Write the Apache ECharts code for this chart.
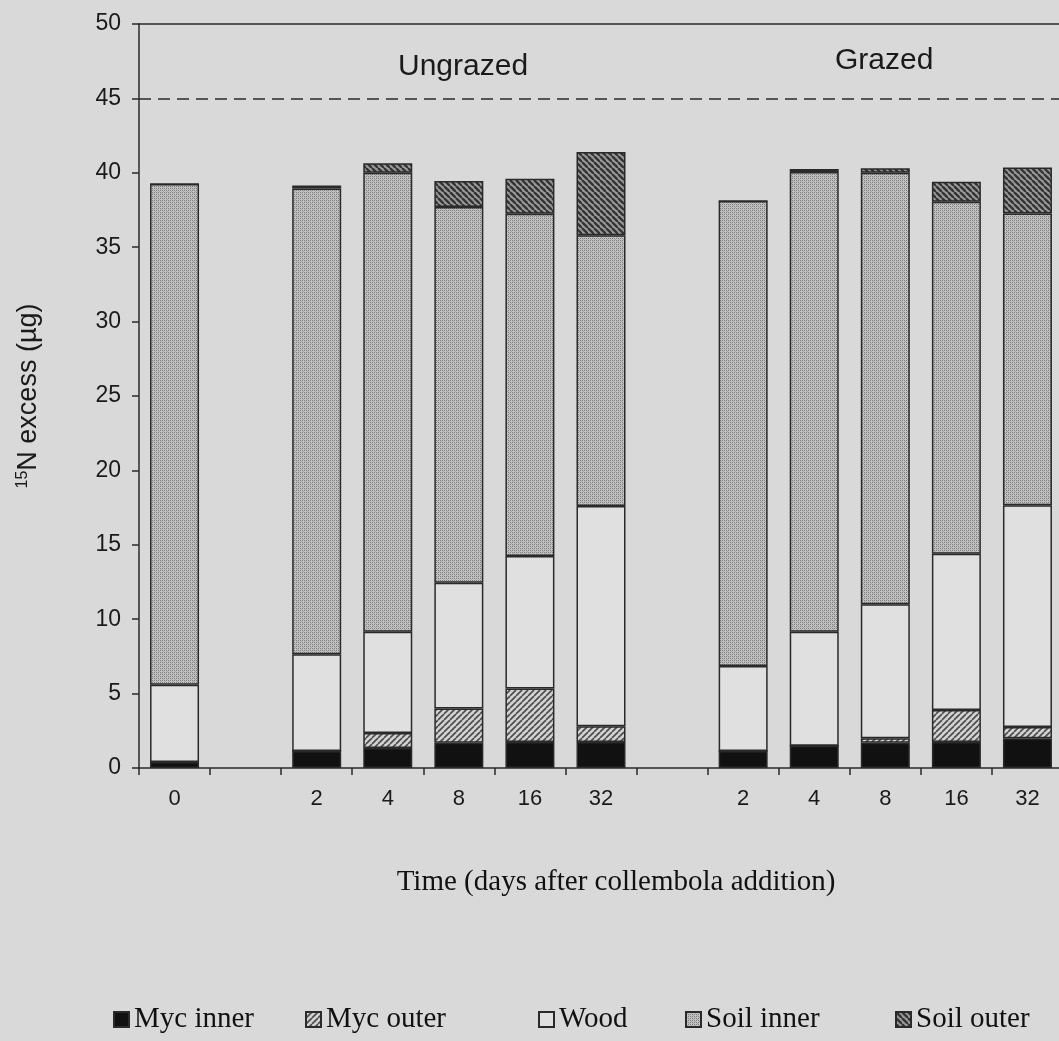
<!DOCTYPE html>
<html>
<head>
<meta charset="utf-8">
<script src="https://cdn.jsdelivr.net/npm/echarts@6/dist/echarts.min.js"></script>
<style>
html,body{margin:0;padding:0;background:#d9d9d9;overflow:hidden;}
#chart{width:1063px;height:1041px;}
</style>
</head>
<body>
<div id="chart"></div>
<script>
// Categories (13 slots: ungrazed 0, gap, 2..32, gap, grazed 2..32)
var categories = ['U0','Ugap','U2','U4','U8','U16','U32','Ggap','G2','G4','G8','G16','G32'];
var tickLabels = ['0','','2','4','8','16','32','','2','4','8','16','32'];
var seriesNames = ['Myc inner','Myc outer','Wood','Soil inner','Soil outer'];
// values in µg (null = empty slot)
var mycInner  = [0.4, null, 1.15, 1.35, 1.7, 1.75, 1.75, null, 1.15, 1.5, 1.7, 1.75, 2.0];
var mycOuter  = [0,   null, 0,    1.0,  2.3, 3.6,  1.05, null, 0,    0,   0.3, 2.15, 0.76];
var wood      = [5.2, null, 6.5,  6.8,  8.45,8.9,  14.8, null, 5.7,  7.65,9.0, 10.5, 14.9];
var soilInner = [33.65,null,31.3, 30.85,25.25,23.0,18.2, null, 31.25,30.9,29.0,23.65,19.6];
var soilOuter = [0,   null, 0.2,  0.65, 1.75,2.35, 5.6,  null, 0,    0.2, 0.3, 1.35, 3.1];
var refLine = 45;
var groupLabels = ['Ungrazed','Grazed'];

function makePattern(kind){
  var c = document.createElement('canvas');
  var ctx = c.getContext('2d');
  if (kind === 'stipple'){
    c.width = 4; c.height = 4;
    ctx.fillStyle = '#c4c4c4'; ctx.fillRect(0,0,4,4);
    ctx.fillStyle = '#7e7e7e';
    ctx.fillRect(0,0,1,1); ctx.fillRect(2,2,1,1); ctx.fillRect(2,0,1,1); ctx.fillRect(0,2,1,1);
    ctx.fillStyle = '#a0a0a0';
    ctx.fillRect(1,1,1,1); ctx.fillRect(3,3,1,1);
  } else if (kind === 'hatchDark'){
    var s = 6; c.width = s; c.height = s;
    ctx.fillStyle = '#9a9a9a'; ctx.fillRect(0,0,s,s);
    ctx.strokeStyle = '#353535'; ctx.lineWidth = 2.4;
    // "\" direction
    [-s,0,s].forEach(function(o){ ctx.beginPath(); ctx.moveTo(o,0); ctx.lineTo(o+s,s); ctx.stroke(); });
  } else if (kind === 'hatchLight'){
    var t = 6; c.width = t; c.height = t;
    ctx.fillStyle = '#d2d2d2'; ctx.fillRect(0,0,t,t);
    ctx.strokeStyle = '#4a4a4a'; ctx.lineWidth = 1.6;
    // "/" direction
    [-t,0,t].forEach(function(o){ ctx.beginPath(); ctx.moveTo(o,t); ctx.lineTo(o+t,0); ctx.stroke(); });
  }
  return {image: c, repeat: 'repeat'};
}

var fills = ['#111111', makePattern('hatchLight'), '#e0e0e0', makePattern('stipple'), makePattern('hatchDark')];
var dataArrays = [mycInner, mycOuter, wood, soilInner, soilOuter];

var series = seriesNames.map(function(name, i){
  var s = {
    name: name,
    type: 'bar',
    stack: 'total',
    barWidth: 49,
    data: dataArrays[i],
    itemStyle: {color: fills[i], borderColor: '#2a2a2a', borderWidth: 1.5},
    emphasis: {disabled: true}
  };
  if (i === 0){
    s.markLine = {
      silent: true, symbol: 'none', label: {show: false},
      lineStyle: {type: [12, 7], color: '#2a2a2a', width: 1.6},
      data: [{yAxis: refLine}]
    };
  }
  return s;
});

var legendPos = [108, 300, 533, 680, 890];
var legends = seriesNames.map(function(n, i){
  return {
    data: [n], left: legendPos[i], top: 1000, icon: 'rect',
    itemWidth: 15, itemHeight: 15, itemGap: 4,
    textStyle: {fontFamily: 'Liberation Serif', fontSize: 29, color: '#111'},
    selectedMode: false
  };
});

var chart = echarts.init(document.getElementById('chart'), null, {renderer: 'canvas'});
chart.setOption({
  backgroundColor: '#d9d9d9',
  animation: false,
  grid: {left: 139, top: 24, right: 0, bottom: 273, show: false},
  legend: legends,
  xAxis: [{
    type: 'category',
    data: categories,
    axisLine: {lineStyle: {color: '#2a2a2a', width: 1.5}},
    axisTick: {show: true, length: 7, lineStyle: {color: '#2a2a2a', width: 1.5}},
    axisLabel: {fontFamily: 'Liberation Sans', fontSize: 22, color: '#1a1a1a', margin: 20,
      formatter: function(v, idx){ return tickLabels[idx]; }},
    name: 'Time (days after collembola addition)',
    nameLocation: 'middle',
    nameGap: 100,
    nameTextStyle: {fontFamily: 'Liberation Serif', fontSize: 29, color: '#111', padding: [0,0,0,30]}
  }, {
    type: 'category',
    position: 'top',
    data: categories,
    axisLine: {show: true, lineStyle: {color: '#2a2a2a', width: 1.5}},
    axisTick: {show: false},
    axisLabel: {show: false}
  }],
  yAxis: {
    type: 'value',
    min: 0, max: 50, interval: 5,
    axisLine: {show: true, lineStyle: {color: '#2a2a2a', width: 1.5}},
    axisTick: {show: true, length: 7, lineStyle: {color: '#2a2a2a', width: 1.5}},
    splitLine: {show: false},
    axisLabel: {fontFamily: 'Liberation Sans', fontSize: 23, color: '#1a1a1a', margin: 18},
    name: '{sup|15}N excess (µg)',
    nameLocation: 'middle',
    nameGap: 97,
    nameRotate: 90,
    nameTextStyle: {fontFamily: 'Liberation Sans', fontSize: 27, color: '#1a1a1a',
      rich: {sup: {fontFamily: 'Liberation Sans', fontSize: 16, color: '#1a1a1a', verticalAlign: 'top', padding: [0,0,10,0]}}}
  },
  graphic: [
    {type: 'text', left: 398, top: 52, style: {text: groupLabels[0], font: '30px "Liberation Sans"', fill: '#1a1a1a'}},
    {type: 'text', left: 835, top: 46, style: {text: groupLabels[1], font: '30px "Liberation Sans"', fill: '#1a1a1a'}}
  ],
  series: series
});
</script>
</body>
</html>
